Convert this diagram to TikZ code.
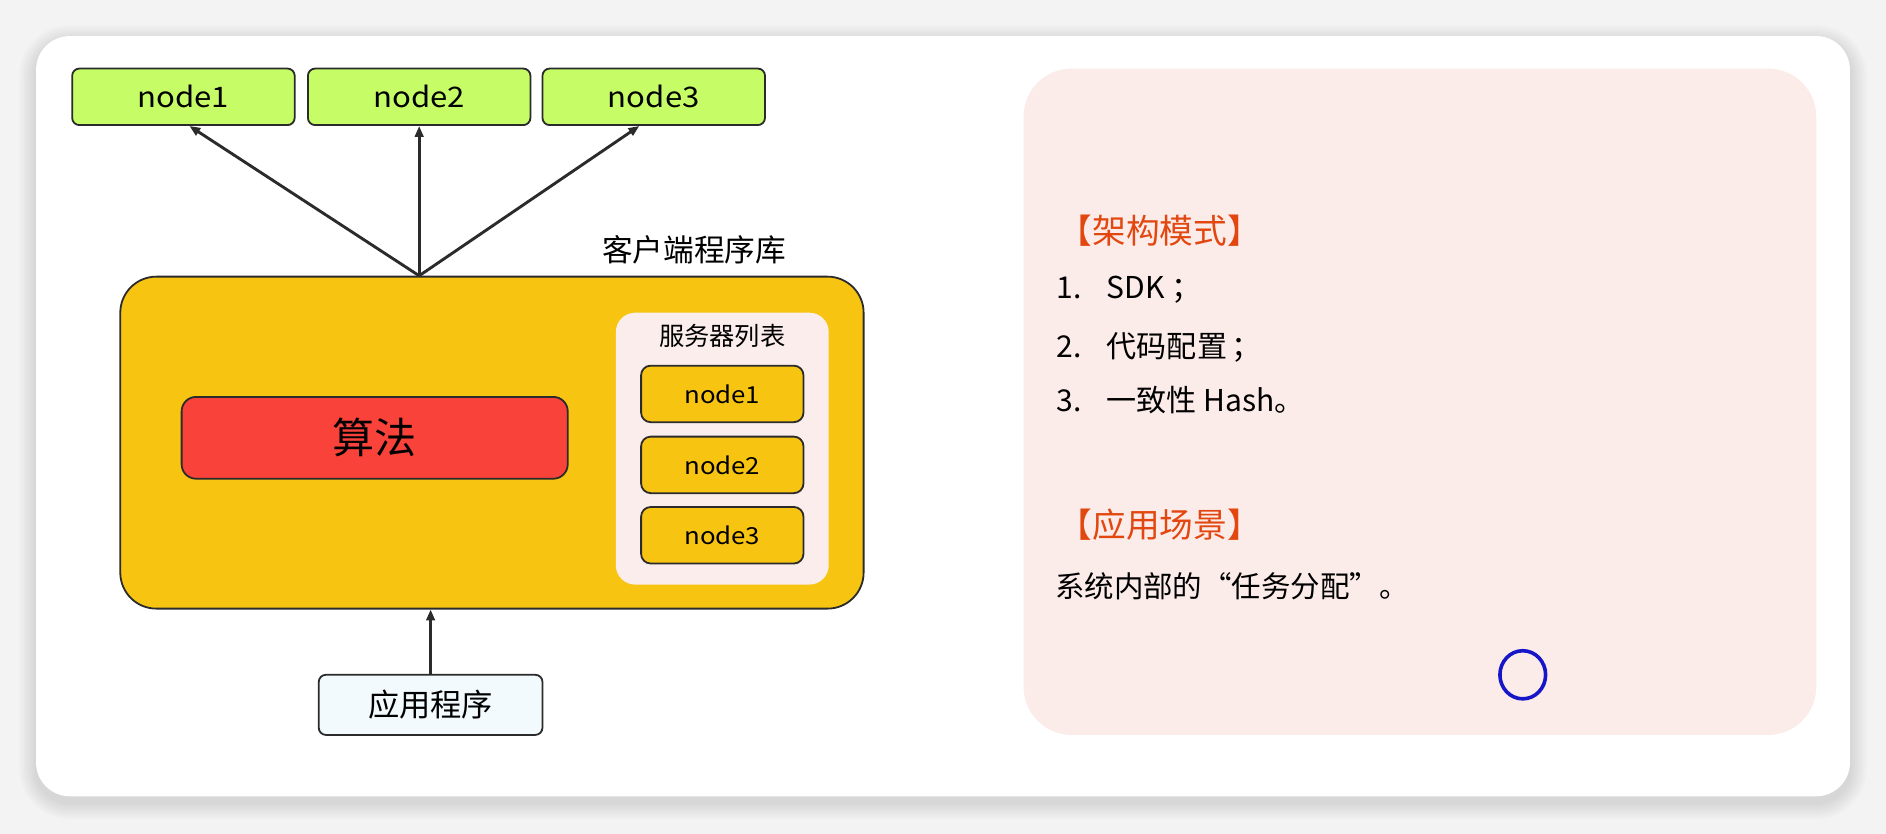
\documentclass[tikz,border=0pt]{standalone}
\usepackage{fontspec}
\setmainfont{Noto Sans CJK SC}
\newfontfamily\widelatin{Noto Sans CJK SC}[FakeStretch=1.1]
\usetikzlibrary{arrows.meta}
\definecolor{bgc}{HTML}{F3F3F3}
\definecolor{greenc}{HTML}{C6FC66}
\definecolor{yellowc}{HTML}{F8C412}
\definecolor{redc}{HTML}{F9433A}
\definecolor{pinkc}{HTML}{FAEDEB}
\definecolor{panelc}{HTML}{FBECEA}
\definecolor{appc}{HTML}{F3FAFD}
\definecolor{orangec}{HTML}{E2470F}
\definecolor{bluec}{HTML}{1616C8}
\definecolor{linec}{HTML}{2B2B2B}
\tikzset{
  topbox/.style={draw=linec, line width=1.5pt, fill=greenc, rounded corners=6pt,
    minimum width=185pt, minimum height=47pt, font=\widelatin\fontsize{23.5}{25}\selectfont},
  srvbox/.style={draw=linec, line width=1.5pt, fill=yellowc, rounded corners=8pt,
    minimum width=135pt, minimum height=47pt, font=\widelatin\fontsize{19.5}{21}\selectfont},
  arr/.style={draw=linec, line width=2.4pt, -{Triangle[length=9pt,width=7pt]}},
  lbl/.style={anchor=west, inner sep=0pt, font=\fontsize{25}{27}\selectfont},
  head/.style={anchor=west, inner sep=0pt, text=orangec, font=\fontsize{28}{30}\selectfont},
}
\begin{document}
\begin{tikzpicture}[x=1pt,y=-1pt]
\fill[bgc] (0,0) rectangle (1568,693);
\useasboundingbox (0,0) rectangle (1568,693);
% card shadow
\foreach \s in {14,12,...,2}{
  \fill[black, opacity=0.016, rounded corners=28pt+\s pt] (30-\s,30-\s+5) rectangle (1538+\s,662+\s+5);
}
\fill[white, rounded corners=28pt] (30,30) rectangle (1538,662);

% top nodes
\node[topbox] (t1) at (152.5,80.5) {node1};
\node[topbox] (t2) at (348.5,80.5) {node2};
\node[topbox] (t3) at (543.5,80.5) {node3};

% client library
\node[draw=linec, line width=1.5pt, fill=yellowc, rounded corners=30pt,
  minimum width=618pt, minimum height=276pt] (lib) at (409,368) {};
\node[inner sep=0pt, font=\fontsize{25.5}{27}\selectfont] (libl) at (577,208) {客户端程序库};
\node[draw=linec, line width=1.5pt, fill=redc, rounded corners=12pt,
  minimum width=321pt, minimum height=68pt, font=\fontsize{35}{37}\selectfont] (algo) at (311.5,364) {算法};
\node[fill=pinkc, rounded corners=16pt, minimum width=177pt, minimum height=226pt] (list) at (600.5,373) {};
\node[inner sep=0pt, font=\fontsize{21}{23}\selectfont] (listt) at (600.5,279) {服务器列表};
\node[srvbox] (s1) at (600.5,327.5) {node1};
\node[srvbox] (s2) at (600.5,386.5) {node2};
\node[srvbox] (s3) at (600.5,445) {node3};

% application
\node[draw=linec, line width=1.5pt, fill=appc, rounded corners=6pt,
  minimum width=186pt, minimum height=50pt, font=\fontsize{26}{28}\selectfont] (app) at (358,586) {应用程序};

% connectors
\coordinate (hub) at (t2.south |- lib.north);
\draw[arr] (hub) -- ([xshift=5pt]t1.south);
\draw[arr] (hub) -- (t2.south);
\draw[arr] (hub) -- ([xshift=-12pt]t3.south);
\draw[arr] (app.north) -- (app.north |- lib.south);

% right panel
\fill[panelc, rounded corners=40pt] (851,57) rectangle (1510,611);
\node[head] (h1) at (880,192) {【架构模式】};
\node[lbl] (i1) at (878,241) {\makebox[42pt][l]{1.}SDK ；};
\node[lbl] (i2) at (878,289) {\makebox[42pt][l]{2.}代码配置\hspace{4pt}；};
\node[lbl] (i3) at (878,333) {\makebox[42pt][l]{3.}一致性 Hash。};
\node[head] (h2) at (880,436) {【应用场景】};
\node[lbl, font=\fontsize{24.5}{26}\selectfont] (d1) at (877,487) {系统内部的“任务分配”。};
\draw[bluec, line width=3pt] (1266,561) ellipse [x radius=19pt, y radius=20pt];
\end{tikzpicture}
\end{document}
